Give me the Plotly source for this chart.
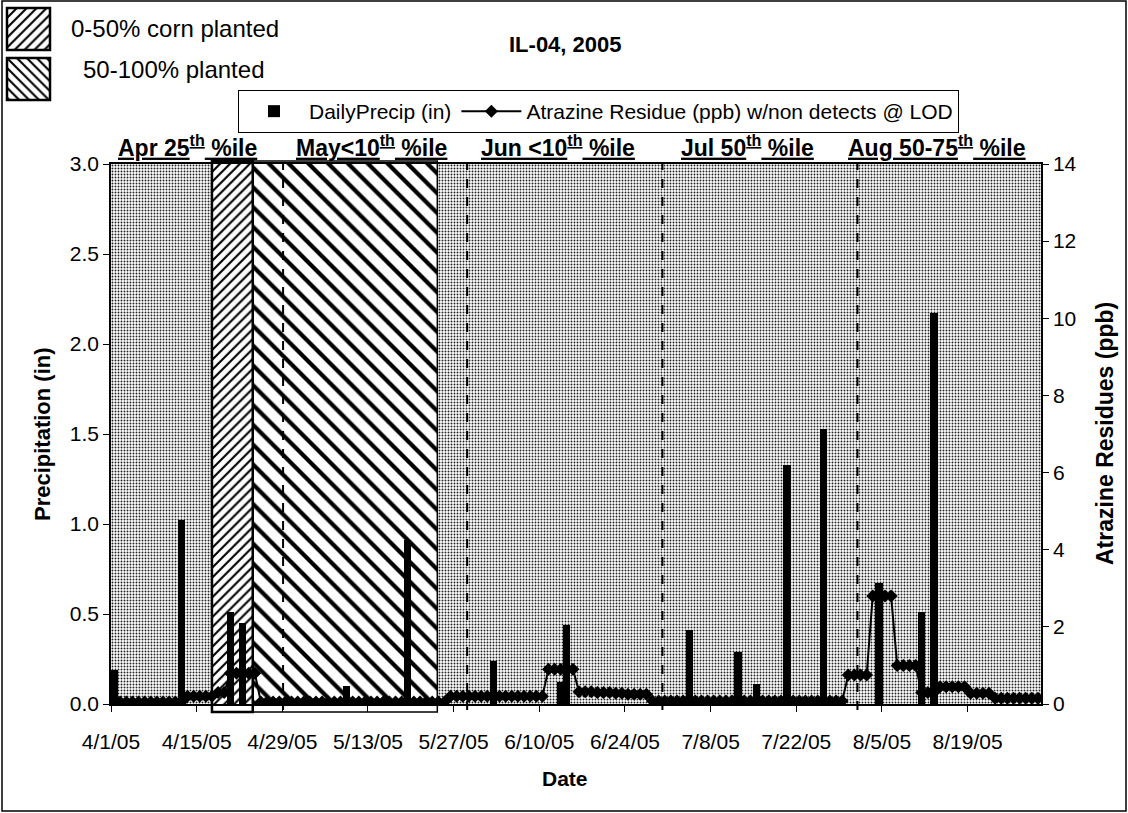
import pandas as pd
import plotly.graph_objects as go

W, H = 1128, 813
FONT = "Liberation Sans, Arial, sans-serif"

# ---- data -------------------------------------------------------------
# daily precipitation (inches), rain days only
rain_dates = ["2005-04-01", "2005-04-12", "2005-04-20", "2005-04-22", "2005-05-09",
              "2005-05-19", "2005-06-02", "2005-06-13", "2005-06-14", "2005-07-04",
              "2005-07-12", "2005-07-15", "2005-07-20", "2005-07-26", "2005-08-04",
              "2005-08-11", "2005-08-13"]
rain_in = [0.19, 1.02, 0.51, 0.45, 0.10,
           0.91, 0.24, 0.12, 0.44, 0.41,
           0.29, 0.11, 1.33, 1.53, 0.67,
           0.51, 2.17]

# daily atrazine residue (ppb), non detects reported at LOD, 4/1/05 - 8/31/05
atrazine_apr = [0.10, 0.05, 0.05, 0.05, 0.05, 0.05, 0.05, 0.05, 0.05, 0.05, 0.05, 0.05,
                0.20, 0.20, 0.20, 0.20, 0.20, 0.30, 0.30,
                0.80, 0.80, 0.80, 0.80, 0.80,
                0.05, 0.05, 0.05, 0.05, 0.05, 0.05]
atrazine_may = [0.05, 0.05, 0.05, 0.05, 0.05, 0.05, 0.05, 0.05, 0.05, 0.05,
                0.05, 0.05, 0.05, 0.05, 0.05, 0.05, 0.05, 0.05, 0.05, 0.05,
                0.05, 0.05, 0.05, 0.05, 0.05,
                0.20, 0.20, 0.20, 0.20, 0.20, 0.20]
atrazine_jun = [0.20, 0.20, 0.20, 0.20, 0.20, 0.20, 0.20, 0.20, 0.20, 0.20,
                0.90, 0.90, 0.90, 0.90, 0.90,
                0.32, 0.32, 0.32, 0.30, 0.30, 0.30, 0.28, 0.28, 0.25, 0.25, 0.25, 0.25,
                0.08, 0.08, 0.08]
atrazine_jul = [0.08, 0.08, 0.08, 0.08, 0.08, 0.08, 0.08, 0.08, 0.08, 0.08,
                0.08, 0.08, 0.08, 0.08, 0.08, 0.08, 0.08, 0.08, 0.08, 0.08,
                0.08, 0.08, 0.08, 0.08, 0.08, 0.08, 0.08, 0.08, 0.08,
                0.75, 0.75]
atrazine_aug = [0.75, 0.75,
                2.80, 2.80, 2.80, 2.80,
                1.00, 1.00, 1.00, 1.00,
                0.30, 0.30, 0.30,
                0.45, 0.45, 0.45, 0.45, 0.45,
                0.28, 0.28, 0.28, 0.28,
                0.15, 0.15, 0.15, 0.15, 0.15, 0.15, 0.15, 0.15, 0.15]
atrazine_ppb = atrazine_apr + atrazine_may + atrazine_jun + atrazine_jul + atrazine_aug

# corn planting windows
plant_labels = ["0-50% corn planted", "50-100% planted"]
plant_start = ["2005-04-17 12:00", "2005-04-24 04:00"]
plant_end = ["2005-04-24 04:00", "2005-05-24 08:00"]

# monthly precipitation percentile notes and month dividers
month_notes = ["Apr 25<sup>th</sup> %ile", "May&lt;10<sup>th</sup> %ile", "Jun &lt;10<sup>th</sup> %ile",
               "Jul 50<sup>th</sup> %ile", "Aug 50-75<sup>th</sup> %ile"]
month_note_dates = ["2005-04-13 12:00", "2005-05-13 12:00", "2005-06-13", "2005-07-14", "2005-08-14"]
month_dividers = ["2005-04-29 03:00", "2005-05-29 05:00", "2005-06-30 03:00", "2005-08-01"]

x_start, x_end = "2005-04-01", "2005-08-31"

# ---- helpers ----------------------------------------------------------
DAY_MS = 86400000
def px(x):
    return x / W
def py(y):
    return 1 - y / H

days = pd.date_range(x_start, periods=len(atrazine_ppb), freq="D") + pd.Timedelta(hours=12)
rain_x = pd.to_datetime(rain_dates) + pd.Timedelta(hours=12)

fig = go.Figure()

# stippled plot-area fill
t0, t1 = pd.Timestamp(x_start), pd.Timestamp(x_end)
fig.add_trace(go.Bar(
    x=[t0 + (t1 - t0) / 2], y=[3.0], width=[(t1 - t0).total_seconds() * 1000 + 2 * DAY_MS],
    marker=dict(color="white", line=dict(width=0),
                pattern=dict(shape=".", fgcolor="#222222", bgcolor="white", size=3, solidity=0.32)),
    showlegend=False, hoverinfo="skip"))

# planting windows (hatched)
hatch = [dict(shape="/", size=7, solidity=0.3), dict(shape="\\", size=14, solidity=0.3)]
for lab, s, e, h in zip(plant_labels, plant_start, plant_end, hatch):
    s, e = pd.Timestamp(s), pd.Timestamp(e)
    fig.add_trace(go.Bar(
        x=[s + (e - s) / 2], y=[3.0], width=[(e - s).total_seconds() * 1000],
        marker=dict(color="white", line=dict(width=0),
                    pattern=dict(fgcolor="black", bgcolor="white", **h)),
        name=lab, showlegend=False, hoverinfo="skip"))

# daily precipitation
fig.add_trace(go.Bar(
    x=rain_x, y=rain_in, width=[DAY_MS * 1.2] * len(rain_in),
    marker=dict(color="black", line=dict(width=0)),
    name="DailyPrecip (in)"))

# atrazine residue
fig.add_trace(go.Scatter(
    x=days, y=atrazine_ppb, yaxis="y2", mode="lines+markers",
    line=dict(color="black", width=2),
    marker=dict(symbol="diamond", size=10, color="black"),
    name="Atrazine Residue (ppb) w/non detects @ LOD"))

# legend swatches for the planting windows
for i, (lab, h) in enumerate(zip(plant_labels, hatch)):
    ax = 3 + i
    fig.add_trace(go.Bar(
        x=[0.5], y=[1], width=[1], xaxis=f"x{ax}", yaxis=f"y{ax}",
        marker=dict(color="white", line=dict(width=0),
                    pattern=dict(fgcolor="black", bgcolor="white", **dict(h, size=7))),
        showlegend=False, hoverinfo="skip"))

plot_l, plot_r, plot_t, plot_b = 111, 1041, 164, 704
tickfont = dict(family=FONT, size=21, color="black")

layout = dict(
    width=W, height=H, template="none",
    margin=dict(l=0, r=0, t=0, b=0, pad=0),
    paper_bgcolor="white", plot_bgcolor="white",
    barmode="overlay", bargap=0,
    font=dict(family=FONT, color="black"),
    xaxis=dict(type="date", range=[x_start, x_end], domain=[px(plot_l), px(plot_r)],
               tick0=x_start, dtick=14 * DAY_MS, tickformat="%-m/%-d/%y",
               ticks="outside", ticklen=6, tickcolor="black", ticklabelstandoff=12,
               showline=True, linecolor="black", linewidth=1.5, mirror=True,
               showgrid=False, zeroline=False, automargin=False, tickfont=tickfont),
    yaxis=dict(range=[0, 3], dtick=0.5, tickformat=".1f", domain=[py(plot_b), py(plot_t)],
               ticks="outside", ticklen=6, tickcolor="black",
               showline=True, linecolor="black", linewidth=1.5,
               showgrid=False, zeroline=False, automargin=False, tickfont=tickfont),
    yaxis2=dict(range=[0, 14], dtick=2, overlaying="y", side="right",
                ticks="outside", ticklen=6, tickcolor="black",
                showline=True, linecolor="black", linewidth=1.5,
                showgrid=False, zeroline=False, automargin=False, tickfont=tickfont),
    legend=dict(orientation="h", x=px(238), y=py(90), xanchor="left", yanchor="top",
                bgcolor="white", bordercolor="black", borderwidth=1, itemwidth=60,
                font=dict(family=FONT, size=21, color="black"), traceorder="normal"),
)
sw = [(7, 8, 50, 50), (7, 58, 50, 100)]
for i, (x0, y0, x1, y1) in enumerate(sw):
    ax = 3 + i
    layout[f"xaxis{ax}"] = dict(domain=[px(x0), px(x1)], range=[0, 1], visible=False,
                                anchor=f"y{ax}", fixedrange=True)
    layout[f"yaxis{ax}"] = dict(domain=[py(y1), py(y0)], range=[0, 1], visible=False,
                                anchor=f"x{ax}", fixedrange=True)
fig.update_layout(**layout)

shapes = []
# outer chart border
shapes.append(dict(type="rect", xref="paper", yref="paper", x0=px(2), x1=px(1126), y0=py(811), y1=py(1),
                   line=dict(color="black", width=1.5)))
# swatch borders
for (x0, y0, x1, y1) in sw:
    shapes.append(dict(type="rect", xref="paper", yref="paper", x0=px(x0), x1=px(x1), y0=py(y1), y1=py(y0),
                       line=dict(color="black", width=2.5)))
# planting window outlines
for s, e, w in zip(plant_start, plant_end, [2.5, 1.5]):
    shapes.append(dict(type="rect", xref="x", yref="paper", x0=s, x1=e, y0=py(712), y1=py(161),
                       line=dict(color="black", width=w)))
# month dividers
for d in month_dividers:
    shapes.append(dict(type="line", xref="x", yref="paper", x0=d, x1=d, y0=py(710), y1=py(plot_t),
                       line=dict(color="black", width=2, dash="dash")))
fig.update_layout(shapes=shapes)

def note(text, x, y, size, xref="paper", angle=0, xanchor="center", yanchor="middle"):
    return dict(text=text, xref=xref, yref="paper", x=x, y=y, textangle=angle,
                xanchor=xanchor, yanchor=yanchor, showarrow=False,
                font=dict(family=FONT, size=size, color="black"))

ann = [
    note("<b>IL-04, 2005</b>", px(565), py(44), 22),
    note(plant_labels[0], px(69), py(29), 24, xanchor="left"),
    note(plant_labels[1], px(81), py(70), 24, xanchor="left"),
    note("<b>Precipitation (in)</b>", px(42), py(434), 22, angle=-90),
    note("<b>Atrazine Residues (ppb)</b>", px(1105), py(434), 23, angle=-90),
    note("<b>Date</b>", px(565), py(778), 21),
]
for t, d in zip(month_notes, month_note_dates):
    ann.append(note(f"<b><u>{t}</u></b>", d, py(plot_t - 1), 23, xref="x", yanchor="bottom"))
fig.update_layout(annotations=ann)

fig.write_html("out.html")
